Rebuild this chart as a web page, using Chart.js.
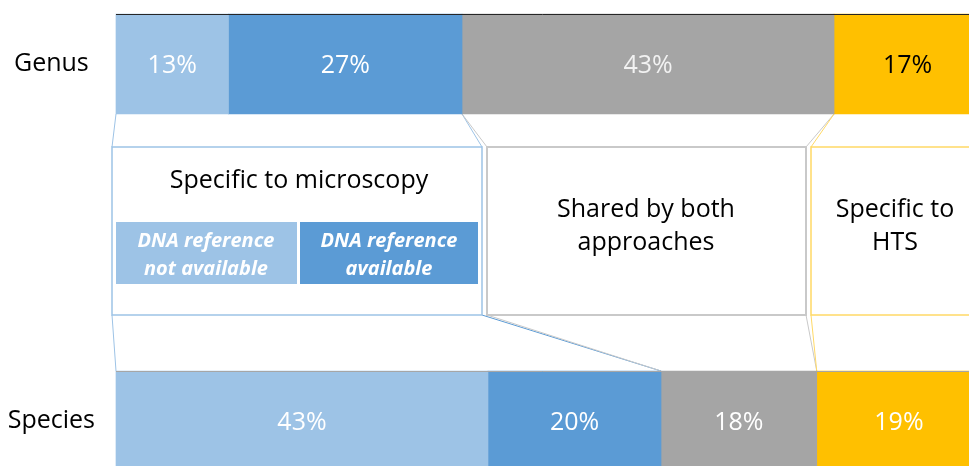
<!DOCTYPE html>
<html>
<head>
<meta charset="utf-8">
<script src="https://cdn.jsdelivr.net/npm/chart.js@4.4.1/dist/chart.umd.min.js"></script>
<style>
  html, body { margin: 0; padding: 0; background: #fff; }
</style>
</head>
<body>
<canvas id="chart" width="969" height="466"></canvas>
<script>
// data (percent of taxa)
const categories = ["Genus", "Species"];
const notAvailable = [13, 43];   // microscopy only, no DNA reference
const available = [27, 20];      // microscopy only, DNA reference available
const shared = [43, 18];         // shared by both approaches
const htsOnly = [17, 19];        // specific to HTS

const colors = ["#9DC3E6", "#5B9BD5", "#A5A5A5", "#FFC000"];
// label colour per category, per segment
const labelColors = [
  ["#ffffff", "#ffffff", "#f2f2f2", "#000000"],
  ["#ffffff", "#ffffff", "#ffffff", "#ffffff"],
];

const FONT = "'Open Sans', 'Noto Sans', sans-serif";

// boxes between the two bars
const boxTop = 147, boxBottom = 315;
const boxes = [
  { l: 112, r: 482, stroke: "#9DC3E6", lw: 1.5 },
  { l: 487, r: 806, stroke: "#C9C9C9", lw: 2 },
  { l: 811, r: 979, stroke: "#FFD966", lw: 1.5 },
];

function line(ctx, x1, y1, x2, y2, color) {
  ctx.save();
  ctx.strokeStyle = color;
  ctx.lineWidth = 1;
  ctx.beginPath();
  ctx.moveTo(x1, y1);
  ctx.lineTo(x2, y2);
  ctx.stroke();
  ctx.restore();
}

function text(ctx, str, x, y, font, color) {
  ctx.save();
  ctx.font = font;
  ctx.fillStyle = color;
  ctx.textAlign = "center";
  ctx.textBaseline = "alphabetic";
  ctx.fillText(str, x, y);
  ctx.restore();
}

const overlay = {
  id: "overlay",
  beforeDatasetsDraw(chart) {
    const ctx = chart.ctx;
    const bar = (ds, idx) => chart.getDatasetMeta(ds).data[idx].getProps(["x", "y", "base", "height"], true);

    // genus bottom edge and species top edge, at segment starts
    const g0 = bar(0, 0), g2 = bar(2, 0), g3 = bar(3, 0);
    const s0 = bar(0, 1), s2 = bar(2, 1), s3 = bar(3, 1);
    const gy = g0.y + g0.height / 2;
    const sy = s0.y - s0.height / 2;

    // connectors
    line(ctx, g0.base, gy, boxes[0].l, boxTop, "#9DC3E6");
    line(ctx, g2.base, gy, boxes[0].r, boxTop, "#9DC3E6");
    line(ctx, g2.base, gy, boxes[1].l, boxTop, "#C9C9C9");
    line(ctx, g3.base, gy, boxes[1].r, boxTop, "#C9C9C9");
    line(ctx, g3.base, gy, boxes[2].l, boxTop, "#FFD966");
    line(ctx, boxes[0].l, boxBottom, s0.base, sy, "#9DC3E6");
    line(ctx, boxes[0].r, boxBottom, s2.base, sy, "#5B9BD5");
    line(ctx, boxes[1].l, boxBottom, s2.base, sy, "#C9C9C9");
    line(ctx, boxes[1].r, boxBottom, s3.base, sy, "#C9C9C9");
    line(ctx, boxes[2].l, boxBottom, s3.base, sy, "#FFD966");

    // boxes
    boxes.forEach(b => {
      ctx.save();
      ctx.fillStyle = "#ffffff";
      ctx.fillRect(b.l, boxTop, b.r - b.l, boxBottom - boxTop);
      ctx.strokeStyle = b.stroke;
      ctx.lineWidth = b.lw;
      ctx.strokeRect(b.l, boxTop, b.r - b.l, boxBottom - boxTop);
      ctx.restore();
    });

    const big = "25px " + FONT;
    const small = "italic bold 20px " + FONT;

    text(ctx, "Specific to microscopy", 299, 188, big, "#000");
    ctx.fillStyle = colors[0];
    ctx.fillRect(116, 222, 181, 62);
    ctx.fillStyle = colors[1];
    ctx.fillRect(300, 222, 178, 62);
    text(ctx, "DNA reference", 206, 247, small, "#fff");
    text(ctx, "not available", 206, 275, small, "#fff");
    text(ctx, "DNA reference", 389, 247, small, "#fff");
    text(ctx, "available", 389, 275, small, "#fff");

    text(ctx, "Shared by both", 646, 217, big, "#000");
    text(ctx, "approaches", 646, 250, big, "#000");
    text(ctx, "Specific to", 895, 217, big, "#000");
    text(ctx, "HTS", 895, 250, big, "#000");
  },
  afterDatasetsDraw(chart) {
    const ctx = chart.ctx;
    chart.data.datasets.forEach((ds, i) => {
      chart.getDatasetMeta(i).data.forEach((el, j) => {
        const p = el.getProps(["x", "y", "base"], true);
        text(ctx, ds.data[j] + "%", (p.x + p.base) / 2, p.y + 9, "25px " + FONT, labelColors[j][i]);
      });
    });
    // top edges of the two bars
    const edge = ["#262626", "#A6A6A6"];
    categories.forEach((c, j) => {
      const first = chart.getDatasetMeta(0).data[j].getProps(["y", "base", "height"], true);
      const top = Math.round(first.y - first.height / 2) + 0.5;
      line(ctx, first.base, top, chart.width, top, edge[j]);
    });
  },
};

new Chart(document.getElementById("chart"), {
  type: "bar",
  data: {
    labels: categories,
    datasets: [
      { label: "DNA reference not available", data: notAvailable, backgroundColor: colors[0] },
      { label: "DNA reference available", data: available, backgroundColor: colors[1] },
      { label: "Shared by both approaches", data: shared, backgroundColor: colors[2] },
      { label: "Specific to HTS", data: htsOnly, backgroundColor: colors[3] },
    ].map(d => ({ ...d, barThickness: 100, borderWidth: 0, clip: false })),
  },
  options: {
    indexAxis: "y",
    responsive: false,
    animation: false,
    layout: { padding: { top: 64, bottom: 45, left: 0, right: 0 } },
    plugins: { legend: { display: false }, tooltip: { enabled: false } },
    scales: {
      x: { stacked: true, min: 0, max: 98.6, display: false },
      y: {
        stacked: true,
        offset: false,
        grid: { display: false },
        border: { display: false },
        ticks: { crossAlign: "center", padding: 13, color: "#000", font: { family: FONT, size: 25 } },
        afterFit: (scale) => { scale.width = 116; },
      },
    },
  },
  plugins: [overlay],
});
</script>
</body>
</html>
